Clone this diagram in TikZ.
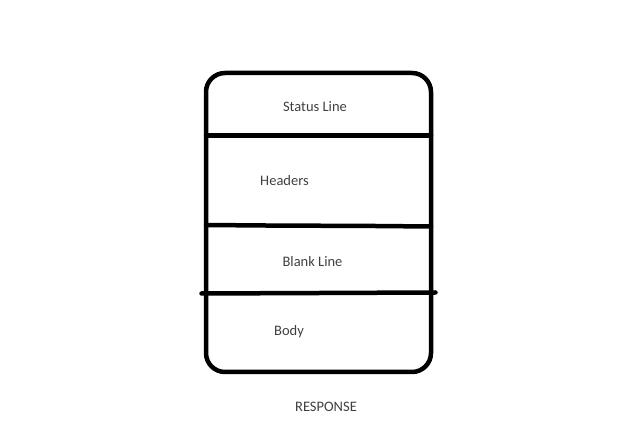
\documentclass[tikz,border=0pt]{standalone}
\usepackage{fontspec}
\setmainfont{Carlito}
\definecolor{txt}{HTML}{404040}
\begin{document}
\begin{tikzpicture}[x=1pt,y=-1pt,
  outline/.style={line width=4.5pt,line cap=round,line join=round},
  lbl/.style={text=txt,font=\fontsize{14.5}{16}\selectfont,inner sep=0pt,anchor=center}]
\useasboundingbox (0,0) rectangle (643,427);
\draw[outline,rounded corners=19pt] (206,73) rectangle (431,372);
\draw[outline] (206,135.5) -- (431,135.5);
\draw[outline] (206,225) -- (265,225.5) -- (375,226) -- (431,226.5);
\draw[outline] (201.5,293.5) -- (320,293) -- (435.5,292.5);
\node[lbl] (status) at (315,107) {Status Line};
\node[lbl] (headers) at (284.5,181) {Headers};
\node[lbl] (blank) at (312.5,262) {Blank Line};
\node[lbl] (body) at (289,331.5) {Body};
\node[lbl] (resp) at (326,407) {RESPONSE};
\end{tikzpicture}
\end{document}
